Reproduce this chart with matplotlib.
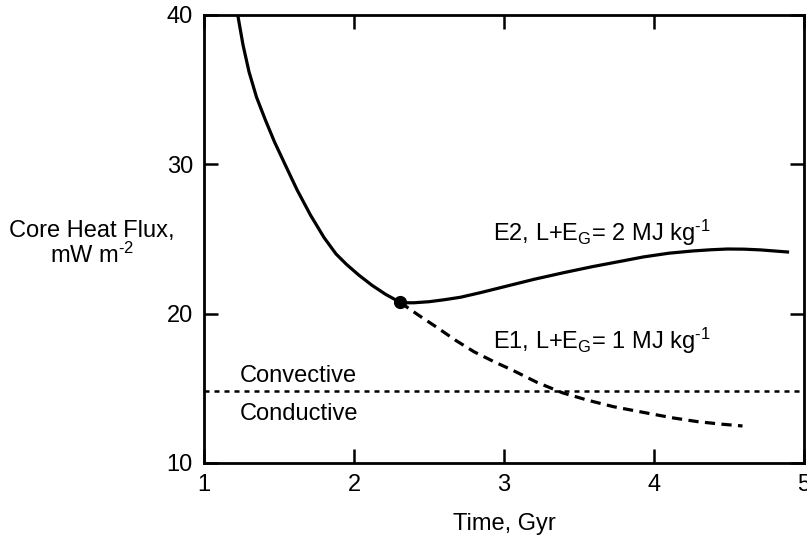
import matplotlib
matplotlib.use("Agg")
import matplotlib.pyplot as plt

plt.rcParams['font.family'] = ['Liberation Sans', 'DejaVu Sans']
plt.rcParams['mathtext.fontset'] = 'custom'
plt.rcParams['mathtext.rm'] = 'Liberation Sans'
plt.rcParams['mathtext.it'] = 'Liberation Sans:italic'
plt.rcParams['mathtext.bf'] = 'Liberation Sans:bold'

# E2 case (L+EG = 2 MJ/kg), solid curve
t_e2 = [1.225, 1.26, 1.30, 1.35, 1.41, 1.47, 1.54, 1.62, 1.71, 1.80,
        1.88, 1.95, 2.03, 2.12, 2.21, 2.307, 2.35, 2.40, 2.50, 2.60,
        2.71, 2.84, 3.0, 3.2, 3.4, 3.59, 3.8, 3.93, 4.1, 4.26, 4.38,
        4.49, 4.6, 4.71, 4.8, 4.89]
q_e2 = [40.0, 38.0, 36.2, 34.5, 32.95, 31.5, 30.0, 28.3, 26.6, 25.1,
        24.0, 23.3, 22.6, 21.9, 21.3, 20.76, 20.73, 20.73, 20.8, 20.93,
        21.1, 21.4, 21.8, 22.3, 22.75, 23.15, 23.55, 23.8, 24.05, 24.2, 24.28,
        24.33, 24.32, 24.27, 24.2, 24.13]

# E1 case (L+EG = 1 MJ/kg), dashed branch after the split
t_e1 = [2.307, 2.43, 2.55, 2.68, 2.8, 2.93, 3.06, 3.22, 3.39, 3.56,
        3.73, 3.95, 4.12, 4.29, 4.45, 4.59]
q_e1 = [20.76, 19.9, 19.1, 18.2, 17.45, 16.8, 16.2, 15.4, 14.7, 14.2,
        13.77, 13.35, 13.03, 12.77, 12.6, 12.48]

# split point and convective/conductive threshold
t_split, q_split = 2.307, 20.76
q_threshold = 14.8

xticks = [1, 2, 3, 4, 5]
yticks = [10, 20, 30, 40]

fig = plt.figure(figsize=(8.07, 5.39), dpi=100)
ax = fig.add_axes([204/807, 1 - 463/539, 600/807, 448/539])

ax.plot(t_e2, q_e2, color='black', lw=2.3, solid_joinstyle='round')
ax.plot(t_e1, q_e1, color='black', lw=2.3, dashes=(3.2, 2.0))
ax.axhline(q_threshold, color='black', lw=1.8, dashes=(2.0, 2.0))
ax.plot([t_split], [q_split], 'o', color='black', ms=8.5)

fs = 17
ax.set_xlim(1, 5)
ax.set_ylim(10, 40)
ax.set_xticks(xticks)
ax.set_yticks(yticks)
ax.tick_params(direction='in', length=10, width=1.8, top=True, right=True,
               labelsize=fs, pad=8)
for s in ax.spines.values():
    s.set_linewidth(2.0)

ax.text(1.24, 15.85, 'Convective', fontsize=fs, va='center', ha='left')
ax.text(1.24, 13.3, 'Conductive', fontsize=fs, va='center', ha='left')
ax.text(2.93, 25.4, r'E2, L+E$_\mathrm{G}$= 2 MJ kg$^\text{-1}$', fontsize=fs,
        va='center', ha='left')
ax.text(2.93, 18.15, r'E1, L+E$_\mathrm{G}$= 1 MJ kg$^\text{-1}$', fontsize=fs,
        va='center', ha='left')

fig.text(92/807, 1 - 244/539, 'Core Heat Flux,\nmW m$^\\text{-2}$', fontsize=fs,
         ha='center', va='center', multialignment='center', linespacing=1.05)
ax.set_xlabel('Time, Gyr', fontsize=fs, labelpad=12)

fig.savefig('out.png', dpi=100)
